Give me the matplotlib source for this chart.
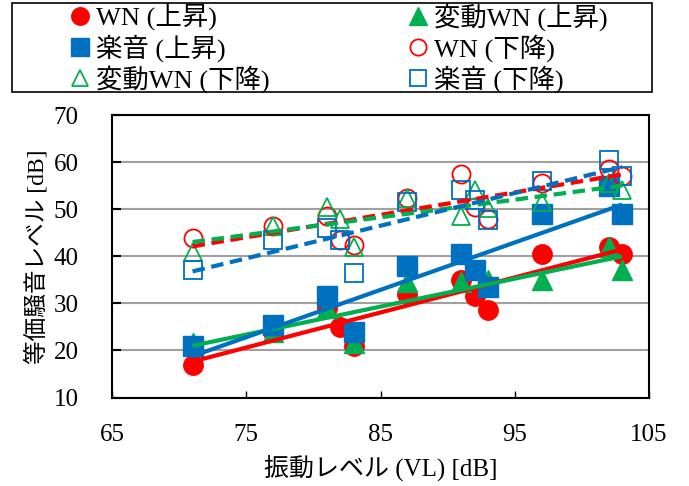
import matplotlib.pyplot as plt
from matplotlib.patches import Rectangle
import numpy as np

plt.rcParams['font.family'] = ['Liberation Serif', 'Noto Sans CJK JP']

# 振動レベル [dB] と等価騒音レベル [dB]
vl_wn_up = [71, 77, 81, 82, 83, 87, 91, 92, 93, 97, 102, 103]
leq_wn_up = [17, 24, 29, 25, 21, 32, 35, 31.5, 28.5, 40.5, 42, 40.5]

vl_hwn_up = [71, 77, 81, 83, 87, 91, 93, 97, 102, 103]
leq_hwn_up = [21.5, 24, 29, 21.5, 34.5, 34.5, 35, 35, 42, 37]

vl_music_up = [71, 77, 81, 83, 87, 91, 92, 93, 97, 102, 103]
leq_music_up = [21, 25.5, 31.5, 24, 38, 40.5, 37, 33.5, 49, 55, 49]

vl_down = [71, 77, 81, 82, 83, 87, 91, 92, 93, 97, 102, 103]
leq_wn_down = [44, 46.5, 48.5, 43.5, 42.5, 52.5, 57.5, 50.5, 48, 55.5, 58.5, 57]
leq_hwn_down = [41, 46.5, 50.5, 48, 42, 52.5, 48.5, 54, 50.2, 51.5, 55.5, 54]
leq_music_down = [37, 43.5, 46, 43.5, 36.5, 51.5, 54, 52, 47.7, 56, 60.5, 57]

RED = '#FF0000'
GREEN = '#00B050'
BLUE = '#0070C0'

series = [
    ('WN (上昇)', vl_wn_up, leq_wn_up, RED, 'o', True),
    ('変動WN (上昇)', vl_hwn_up, leq_hwn_up, GREEN, '^', True),
    ('楽音 (上昇)', vl_music_up, leq_music_up, BLUE, 's', True),
    ('WN (下降)', vl_down, leq_wn_down, RED, 'o', False),
    ('変動WN (下降)', vl_down, leq_hwn_down, GREEN, '^', False),
    ('楽音 (下降)', vl_down, leq_music_down, BLUE, 's', False),
]

fig = plt.figure(figsize=(6.89, 4.86), dpi=100)
ax = fig.add_axes([0.1626, 0.182, 0.7794, 0.581])

handles = []
for label, x, y, color, marker, filled in series:
    if filled:
        h, = ax.plot(x, y, linestyle='none', marker=marker, markersize=14,
                     markerfacecolor=color, markeredgecolor=color, label=label, zorder=3)
    else:
        h, = ax.plot(x, y, linestyle='none', marker=marker, markersize=13,
                     markerfacecolor='none', markeredgecolor=color, markeredgewidth=1.3,
                     label=label, zorder=3)
    handles.append(h)

# 近似直線
for label, x, y, color, marker, filled in series:
    a, b = np.polyfit(x, y, 1)
    xs = np.array([min(x), max(x)])
    ls = '-' if filled else (0, (3, 1.6))
    ax.plot(xs, a * xs + b, color=color, linewidth=3, linestyle=ls, zorder=4,
            solid_capstyle='butt', dash_capstyle='butt')

ax.set_xlim(65, 105)
ax.set_ylim(10, 70)
ax.set_xticks([65, 75, 85, 95, 105])
ax.set_yticks(range(10, 71, 10))
ax.yaxis.grid(True, color='#A0A0A0', linewidth=1.5)
ax.set_axisbelow(True)
for s in ax.spines.values():
    s.set_linewidth(1.5)
ax.tick_params(axis='y', direction='in', length=6.5, width=1.5, pad=24, labelsize=18)
ax.tick_params(axis='x', direction='in', length=5, width=1, pad=19, labelsize=18)

ax.set_xlabel('振動レベル (VL) [dB]', fontsize=18, labelpad=6)
ax.set_ylabel('等価騒音レベル [dB]', fontsize=17, labelpad=4)

# 凡例（2列、行方向の並び）
order = [0, 2, 4, 1, 3, 5]
leg = fig.legend([handles[i] for i in order], [series[i][0] for i in order],
                 loc='upper left', bbox_to_anchor=(68 / 689, 1 - 3 / 486),
                 ncol=2, fontsize=19, frameon=False, borderpad=0, labelspacing=0.12,
                 handletextpad=0.15, handlelength=0.9, columnspacing=5.2,
                 markerscale=0.9, borderaxespad=0)
fig.patches.append(Rectangle((12 / 689, 1 - 92 / 486), 640 / 689, 89 / 486,
                             transform=fig.transFigure, fill=False,
                             edgecolor='black', linewidth=1.2))

fig.savefig('out.png', dpi=100)
